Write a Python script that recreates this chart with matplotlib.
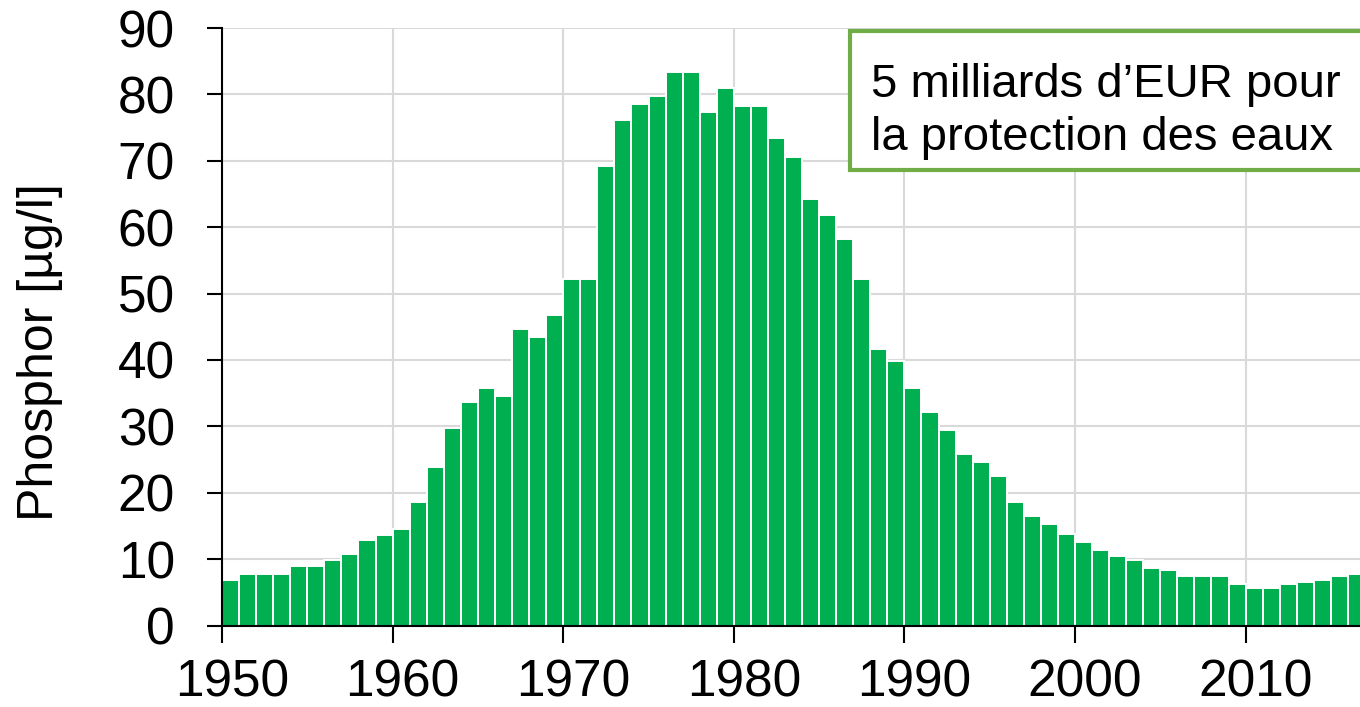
import numpy as np
import matplotlib
matplotlib.use("Agg")
import matplotlib.pyplot as plt
import matplotlib.transforms as mtransforms
from matplotlib.patches import Rectangle

# data
years = np.arange(1950, 2017)
phosphor = [6.8, 7.7, 7.7, 7.7, 8.9, 8.9, 9.8, 10.8, 12.9, 13.7,
            14.6, 18.6, 23.8, 29.8, 33.7, 35.8, 34.6, 44.6, 43.4, 46.8,
            52.2, 52.2, 69.2, 76.1, 78.5, 79.7, 83.3, 83.3, 77.3, 80.9,
            78.2, 78.2, 73.4, 70.6, 64.3, 61.9, 58.2, 52.2, 41.6, 39.8,
            35.8, 32.2, 29.5, 25.8, 24.6, 22.5, 18.6, 16.5, 15.3, 13.8,
            12.6, 11.3, 10.4, 9.8, 8.6, 8.3, 7.4, 7.4, 7.4, 6.2,
            5.6, 5.6, 6.2, 6.5, 6.8, 7.4, 7.7]
x_ticks = [1950, 1960, 1970, 1980, 1990, 2000, 2010]
y_ticks = [0, 10, 20, 30, 40, 50, 60, 70, 80, 90]
y_label = "Phosphor [µg/l]"
note = "5 milliards d\u2019EUR pour\nla protection des eaux"

plt.rcParams['font.family'] = ['Liberation Sans', 'DejaVu Sans']

W, H = 1360, 707
fig = plt.figure(figsize=(W / 100, H / 100), dpi=100)
ax = fig.add_axes([222 / W, 81.5 / H, (W - 222) / W, 597.5 / H])

ax.bar(years, phosphor, width=1.0, align='edge', color='#00B050',
       edgecolor='white', linewidth=1.4, zorder=2)

ax.set_xlim(1950, 1950 + (W - 222) / 17.06)
ax.set_ylim(0, 90)
ax.set_xticks(x_ticks)
ax.set_yticks(y_ticks)
ax.grid(True, color='#D9D9D9', linewidth=1.5, zorder=0)
ax.set_axisbelow(True)

for side in ['top', 'right']:
    ax.spines[side].set_visible(False)
for side in ['left', 'bottom']:
    ax.spines[side].set_linewidth(1.5)
    ax.spines[side].set_zorder(3)

ax.tick_params(axis='y', direction='out', length=11, width=1.5, pad=23, labelsize=37)
ax.tick_params(axis='x', direction='out', length=12, width=1.5, pad=12, labelsize=37)

# x labels sit a little to the right of their ticks in the original
offset = mtransforms.ScaledTranslation(10 / 100, 0, fig.dpi_scale_trans)
for lab in ax.get_xticklabels():
    lab.set_transform(lab.get_transform() + offset)

fig.text(40 / W, 1 - 352 / H, y_label, rotation=90, ha='center', va='center', fontsize=36)

# annotation box, cut off by the right edge
box = Rectangle((850 / W, 1 - 170 / H), (W + 20 - 850) / W, (170 - 31) / H,
                transform=fig.transFigure, facecolor='white', edgecolor='#70AD47',
                linewidth=3, clip_on=False, zorder=5)
ax.add_patch(box)
ax.text(871 / W, 1 - 63 / H, note, transform=fig.transFigure, ha='left', va='top',
        fontsize=34, linespacing=1.25, zorder=6)

fig.savefig('out.png', dpi=100)
